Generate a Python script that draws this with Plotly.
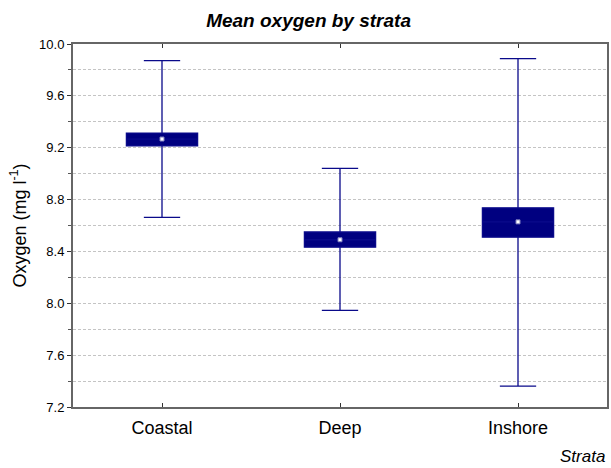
import plotly.graph_objects as go

# Oxygen summary by stratum
strata = ["Coastal", "Deep", "Inshore"]
means = [9.267, 8.490, 8.628]
box_low = [9.215, 8.433, 8.510]
box_high = [9.313, 8.550, 8.736]
whisker_low = [8.662, 7.946, 7.361]
whisker_high = [9.872, 9.040, 9.887]

y_ticks = [7.2, 7.6, 8.0, 8.4, 8.8, 9.2, 9.6, 10.0]
y_tick_text = ["7.2", "7.6", "8.0", "8.4", "8.8", "9.2", "9.6", "10.0"]

navy = "#000080"
whisker_col = "#0a0a8a"
axis_col = "#666666"
grid_col = "#c4c4c4"
font_family = "Liberation Sans, Arial, sans-serif"

fig = go.Figure()

# box spans the range around the mean, whiskers the full extent
fig.add_trace(go.Box(
    x=strata,
    q1=box_low,
    median=means,
    q3=box_high,
    lowerfence=whisker_low,
    upperfence=whisker_high,
    width=0.4,
    whiskerwidth=0.51,
    fillcolor=navy,
    line=dict(color=whisker_col, width=1.3),
    boxpoints=False,
    showlegend=False,
))

# mean marker
fig.add_trace(go.Scatter(
    x=strata,
    y=means,
    mode="markers",
    marker=dict(symbol="square", size=4, color="white",
                line=dict(color="#8080c0", width=1)),
    showlegend=False,
))

fig.update_layout(
    width=611,
    height=468,
    margin=dict(l=73, r=2, t=44, b=61),
    paper_bgcolor="white",
    plot_bgcolor="white",
    font=dict(family=font_family, color="black"),
    title=dict(
        text="<b><i>Mean oxygen by strata</i></b>",
        font=dict(size=19, family=font_family),
        x=0.505, xref="container", xanchor="center",
        y=0.957, yanchor="middle",
    ),
    xaxis=dict(
        type="category",
        range=[-0.5, 2.5],
        showline=True, linecolor=axis_col, linewidth=2,
        mirror="ticks",
        ticks="inside", ticklen=4, tickcolor="#333333", tickwidth=1,
        showgrid=False,
        tickfont=dict(size=18),
        ticklabelstandoff=3,
    ),
    yaxis=dict(
        range=[7.2, 10.0],
        tickvals=y_ticks,
        ticktext=y_tick_text,
        showline=True, linecolor=axis_col, linewidth=2,
        mirror=True,
        ticks="outside", ticklen=4, tickcolor="#333333",
        showgrid=True, gridcolor=grid_col, griddash="3px,2px", gridwidth=1,
        zeroline=False,
        tickfont=dict(size=13),
        minor=dict(dtick=0.2, tick0=7.2, ticks="outside", ticklen=3,
                   tickcolor="#555555", showgrid=True,
                   gridcolor=grid_col, griddash="3px,2px", gridwidth=1),
        title=dict(text="Oxygen (mg l<sup>-1</sup>)", font=dict(size=18),
                   standoff=8),
    ),
    annotations=[dict(
        text="<i>Strata</i>",
        xref="paper", yref="paper",
        x=1.0, y=-0.135, xanchor="right", yanchor="middle",
        showarrow=False, font=dict(size=17),
    )],
)

fig.write_html("out.html")
